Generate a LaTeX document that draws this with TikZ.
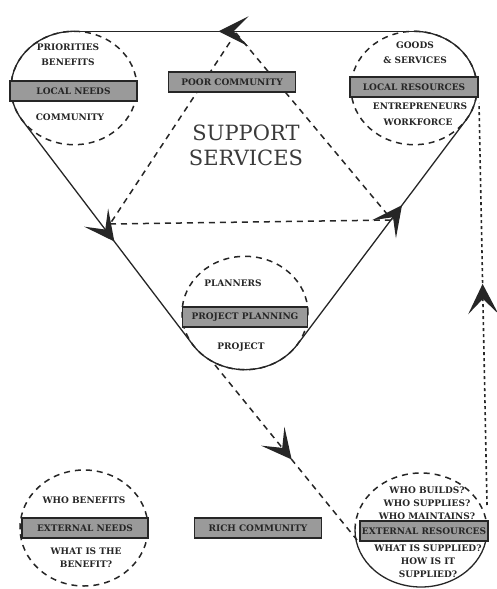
\documentclass[tikz,border=0pt]{standalone}
\usepackage{fontspec}
\newfontfamily\labfont{DejaVu Serif}
\usetikzlibrary{arrows.meta,decorations.markings,shapes.geometric}
\definecolor{ink}{HTML}{262626}
\definecolor{boxgray}{HTML}{9A9A9A}
\definecolor{titleink}{HTML}{3A3A3A}

\begin{document}
\begin{tikzpicture}[x=1pt,y=-1pt,
  ring/.style={draw=ink, dash pattern=on 6pt off 5pt, line width=1.5pt},
  rim/.style={draw=ink, line width=1.3pt, line cap=round},
  flow/.style={draw=ink, dash pattern=on 6pt off 5pt, line width=1.5pt},
  dots/.style={draw=ink, dash pattern=on 3pt off 3pt, line width=1.6pt},
  midhead/.style={postaction={decorate},
    decoration={markings, mark=at position #1 with
      {\arrow{Stealth[length=30pt,width=30pt,inset=15pt]}}}},
  zone/.style={ellipse, inner sep=0pt, outer sep=0pt},
  tag/.style={draw=ink, fill=boxgray, line width=1.6pt, minimum height=20pt,
    inner sep=0pt, text=ink, font=\labfont\bfseries\fontsize{9}{9}\selectfont},
  note/.style={inner sep=0pt, text=ink, align=center,
    font=\labfont\bfseries\fontsize{9}{13.2}\selectfont},
]
\useasboundingbox (0,0) rectangle (496,589);

% corner zones of the cycle and the two outer zones
\node[zone, ring, minimum width=126pt, minimum height=113.4pt] (needs) at (74,88) {};
\node[zone, ring, minimum width=126pt, minimum height=113.4pt] (locres) at (414,88) {};
\node[zone, ring, minimum width=126pt, minimum height=113.4pt] (plan) at (245,313) {};
\node[zone, ring, minimum width=128pt, minimum height=116pt] (extneeds) at (84,528) {};
\node[zone, minimum width=132pt, minimum height=114pt] (extres) at (421,530) {};
\draw[ring] (extres.east) arc[start angle=0, end angle=180, x radius=66pt, y radius=57pt];
\draw[rim] (extres.west) arc[start angle=180, end angle=360, x radius=66pt, y radius=57pt];

% tangent points of the outer cycle
\coordinate (At) at (74,31.3);
\coordinate (Bt) at (414,31.3);
\coordinate (Br) at (466.2,119.75);
\coordinate (Cr) at (297.2,344.75);
\coordinate (Cl) at (193,345);
\coordinate (Al) at (22,120);

% outer cycle: needs -> planning -> resources -> needs
\draw[rim, midhead=0.54] (Al) -- (Cl);
\draw[rim] (Cl) arc[start angle=-145.6, end angle=-34.06, x radius=63pt, y radius=56.7pt];
\draw[rim, midhead=0.62] (Cr) -- (Br);
\draw[rim] (Br) arc[start angle=-34.06, end angle=90, x radius=63pt, y radius=56.7pt];
\draw[rim, midhead=0.575] (Bt) -- (At);
\draw[rim] (At) arc[start angle=90, end angle=214.4, x radius=63pt, y radius=56.7pt];

% inner dashed triangle
\coordinate (apex) at (236,33);
\coordinate (Lq) at (110,224);
\coordinate (Rq) at (392,220);
\draw[flow] (apex) -- (Lq);
\draw[flow] (apex) -- (Rq);
\draw[flow] (Lq) -- (Rq);

% labels
\node[tag, minimum width=127pt] (poor) at (232,82) {POOR COMMUNITY};
\node[inner sep=0pt, text=titleink, align=center,
  font=\labfont\fontsize{21}{25}\selectfont] (support) at (246,145) {SUPPORT\\SERVICES};

\node[note] (prio) at (68,47) {PRIORITIES};
\node[note] (bene) at (68,62) {BENEFITS};
\node[tag, minimum width=127pt] (lneeds) at (73.5,91) {LOCAL NEEDS};
\node[note] (comm) at (70,117) {COMMUNITY};

\node[note] (goods) at (415,45) {GOODS};
\node[note] (servs) at (415,60) {\& SERVICES};
\node[tag, minimum width=128pt] (lres) at (414,87) {LOCAL RESOURCES};
\node[note] (entr) at (420,106) {ENTREPRENEURS};
\node[note] (work) at (418,122) {WORKFORCE};

\node[note] (planners) at (233,283) {PLANNERS};
\node[tag, minimum width=125pt] (pplan) at (245,317) {PROJECT PLANNING};
\node[note] (proj) at (241,347) {PROJECT};

\node[note] (whoben) at (84,500) {WHO BENEFITS};
\node[tag, minimum width=126pt] (eneeds) at (85,528) {EXTERNAL NEEDS};
\node[note] (whatben) at (86,558) {WHAT IS THE\\BENEFIT?};

\node[tag, minimum width=127pt] (rich) at (258,528) {RICH COMMUNITY};

\node[note] (who) at (427,503) {WHO BUILDS?\\WHO SUPPLIES?\\WHO MAINTAINS?};
\node[tag, minimum width=128pt] (eres) at (424,531) {EXTERNAL RESOURCES};
\node[note] (what) at (428,561) {WHAT IS SUPPLIED?\\HOW IS IT\\SUPPLIED?};

% project output to the outside and supply back to local resources
\coordinate (pout) at (215,365);
\coordinate (rin) at (357,540);
\draw[flow, midhead=0.54] (pout) -- (rin);
\coordinate (rtop) at (487,505);
\coordinate (ltop) at (479,103);
\draw[dots, midhead=0.55] (rtop) -- (ltop);
\end{tikzpicture}
\end{document}
